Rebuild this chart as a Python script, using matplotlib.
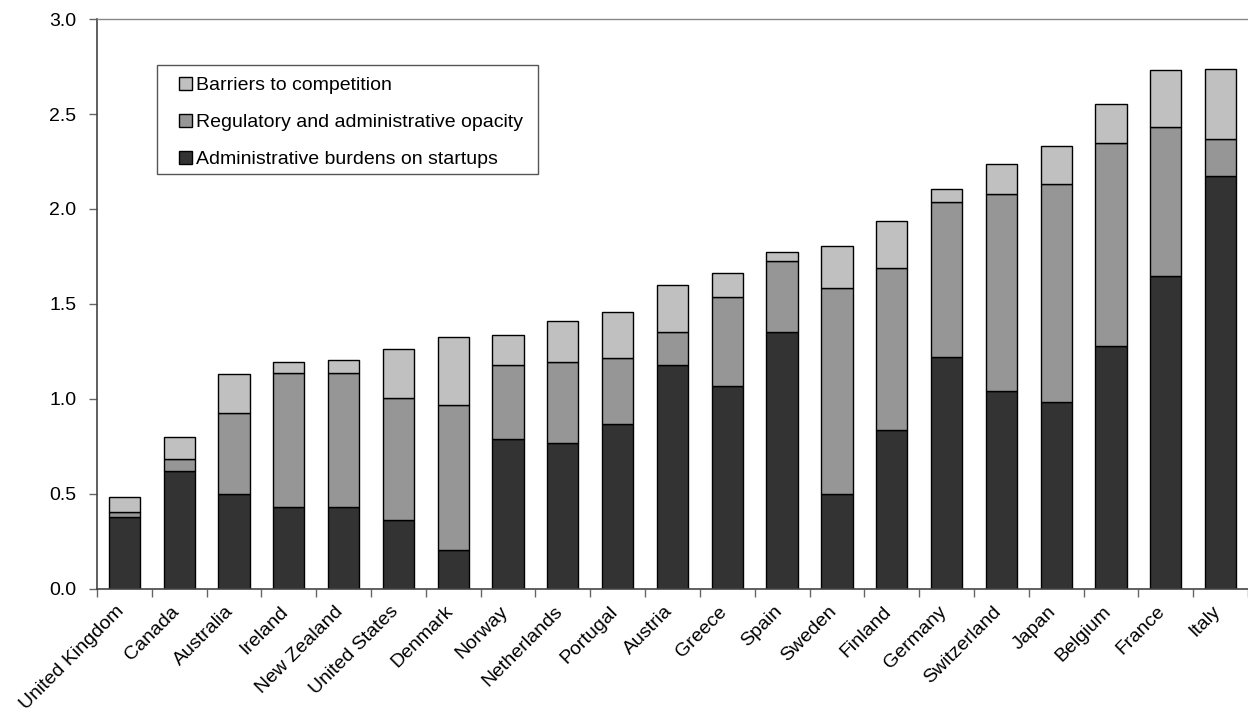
import numpy as np
import matplotlib
matplotlib.use("Agg")
import matplotlib.pyplot as plt
from matplotlib.patches import Patch, Rectangle
from matplotlib.transforms import ScaledTranslation

plt.rcParams['font.family'] = ['Liberation Sans', 'DejaVu Sans']

countries = ['United Kingdom', 'Canada', 'Australia', 'Ireland', 'New Zealand',
             'United States', 'Denmark', 'Norway', 'Netherlands', 'Portugal',
             'Austria', 'Greece', 'Spain', 'Sweden', 'Finland', 'Germany',
             'Switzerland', 'Japan', 'Belgium', 'France', 'Italy']

startups = [0.38, 0.62, 0.50, 0.43, 0.43, 0.365, 0.205, 0.79, 0.77, 0.87,
            1.18, 1.07, 1.35, 0.50, 0.835, 1.22, 1.04, 0.985, 1.28, 1.645, 2.175]
opacity = [0.025, 0.063, 0.425, 0.705, 0.705, 0.639, 0.763, 0.389, 0.423, 0.347,
           0.174, 0.469, 0.376, 1.083, 0.854, 0.819, 1.037, 1.147, 1.067, 0.787, 0.193]
barriers = [0.078, 0.115, 0.208, 0.061, 0.072, 0.259, 0.357, 0.158, 0.219, 0.242,
            0.244, 0.122, 0.048, 0.222, 0.248, 0.066, 0.16, 0.201, 0.207, 0.30, 0.371]

c_dark = '#333333'
c_mid = '#969696'
c_light = '#c0c0c0'

fig = plt.figure(figsize=(12.48, 7.2), dpi=100)
ax = fig.add_axes([0.0777, 0.182, 0.9223, 0.7916])

x = np.arange(len(countries))
w = 0.57
s = np.array(startups)
o = np.array(opacity)
b = np.array(barriers)
kw = dict(width=w, edgecolor='black', linewidth=1.0, zorder=2)
ax.bar(x, s, color=c_dark, **kw)
ax.bar(x, o, bottom=s, color=c_mid, **kw)
ax.bar(x, b, bottom=s + o, color=c_light, **kw)

ax.set_xlim(-0.5, len(countries) - 0.5)
ax.set_ylim(0, 3.0)
yt = np.arange(0, 3.01, 0.5)
ax.set_yticks(yt)
ax.set_yticklabels([f'{v:.1f}' for v in yt], fontsize=14)

# tick marks on the category boundaries, names centred between them
ax.set_xticks(np.arange(-0.5, len(countries), 1.0))
ax.set_xticklabels([])
ax.set_xticks(x, minor=True)
ax.set_xticklabels(countries, minor=True, rotation=45, ha='right', va='top',
                   rotation_mode='anchor', fontsize=14)
ax.tick_params(axis='x', which='minor', length=0, pad=0)
ax.tick_params(axis='x', which='major', direction='out', length=6, width=1, color='#666666')
ax.tick_params(axis='y', direction='out', length=6, width=1, color='#666666', pad=9)
shift = ScaledTranslation(-0.09, -0.14, fig.dpi_scale_trans)
for lab in ax.get_xticklabels(minor=True):
    lab.set_transform(lab.get_transform() + shift)

for side in ['left', 'bottom']:
    ax.spines[side].set_color('#444444')
    ax.spines[side].set_linewidth(1.2)
ax.spines['top'].set_color('#888888')
ax.spines['top'].set_linewidth(1.0)
ax.spines['right'].set_visible(False)

# legend box drawn separately so its padding can be set freely
ax.add_patch(Rectangle((0.0521, 0.728), 0.331, 0.1913, transform=ax.transAxes,
                       facecolor='white', edgecolor='#555555', linewidth=1.0, zorder=3))
handles = [Patch(facecolor=c_light, edgecolor='black', label='Barriers to competition'),
           Patch(facecolor=c_mid, edgecolor='black', label='Regulatory and administrative opacity'),
           Patch(facecolor=c_dark, edgecolor='black', label='Administrative burdens on startups')]
leg = ax.legend(handles=handles, loc='upper left', bbox_to_anchor=(0.0712, 0.898),
                fontsize=14, frameon=False, handlelength=0.65, handleheight=0.65,
                handletextpad=0.25, labelspacing=1.0, borderpad=0, borderaxespad=0)
leg.set_zorder(4)

fig.savefig('out.png', dpi=100)
